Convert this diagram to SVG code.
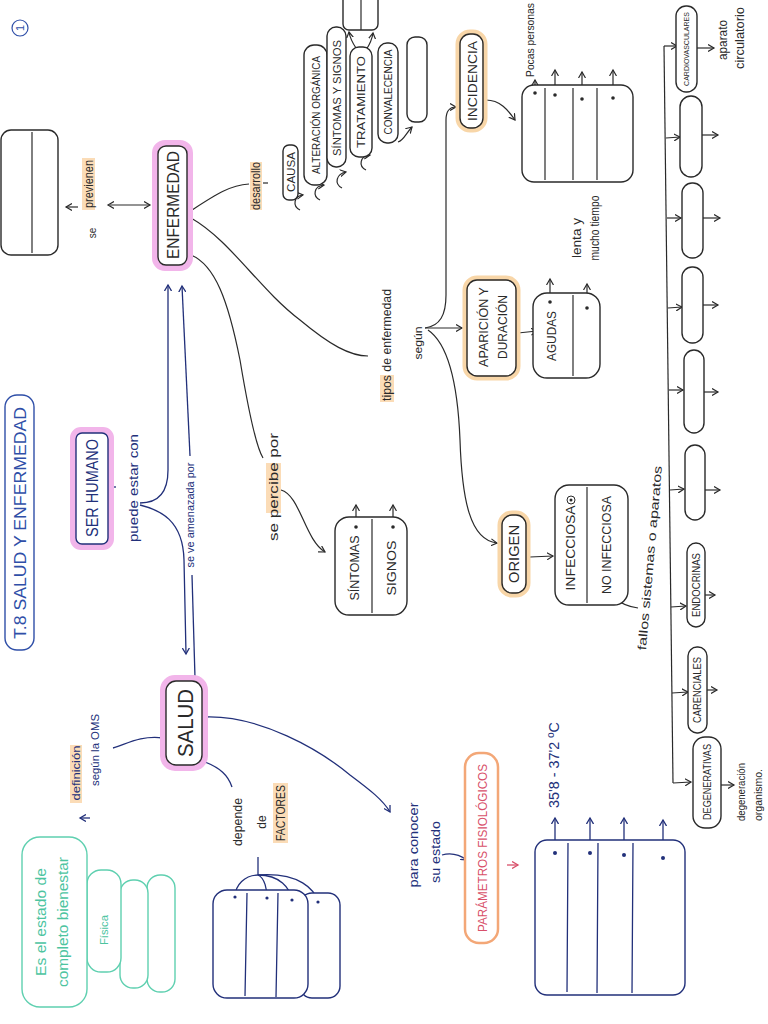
<svg xmlns="http://www.w3.org/2000/svg" width="768" height="1024" viewBox="0 0 768 1024">
<style>
text{font-family:"Liberation Sans","DejaVu Sans",sans-serif;text-anchor:middle;dominant-baseline:central}
.k{fill:#2a2a2a}
.n{fill:#22307a}
.g{fill:#4cc49f}
.r{fill:#d8506a}
.bk{fill:#fff;stroke:#2a2a2a;stroke-width:1.4}
.bn{fill:#fff;stroke:#22307a;stroke-width:1.4}
.bg{fill:#fff;stroke:#5fd0b0;stroke-width:1.4}
.pk{fill:#fff;stroke:#f2b5ea;stroke-width:6}
.og{fill:#fff;stroke:#f8d6a8;stroke-width:5}
.hl{fill:#fbdcb7}
.ck{fill:none;stroke:#2a2a2a;stroke-width:1.2}
.cn{fill:none;stroke:#22307a;stroke-width:1.3}
.dot{fill:#2a2a2a}
.dotn{fill:#22307a}
</style>
<defs>
<marker id="ak" markerWidth="8" markerHeight="8" refX="6" refY="4" orient="auto" markerUnits="userSpaceOnUse"><path d="M0,0.5 L6,4 L0,7.5" fill="none" stroke="#2a2a2a" stroke-width="1.2"/></marker>
<marker id="an" markerWidth="8" markerHeight="8" refX="6" refY="4" orient="auto" markerUnits="userSpaceOnUse"><path d="M0,0.5 L6,4 L0,7.5" fill="none" stroke="#22307a" stroke-width="1.3"/></marker>
<marker id="ar" markerWidth="8" markerHeight="8" refX="6" refY="4" orient="auto" markerUnits="userSpaceOnUse"><path d="M0,0.5 L6,4 L0,7.5" fill="none" stroke="#d8506a" stroke-width="1.3"/></marker>
<marker id="as" markerWidth="8" markerHeight="8" refX="4" refY="4" orient="auto-start-reverse" markerUnits="userSpaceOnUse"><path d="M0,0.5 L6,4 L0,7.5" fill="none" stroke="#2a2a2a" stroke-width="1.2"/></marker>
</defs>
<rect width="768" height="1024" fill="#fff"/>

<g id="connectors">
<path class="ck" d="M78,207 L66,207" marker-end="url(#ak)"/>
<path class="ck" d="M110,205 L150,205" marker-start="url(#as)" marker-end="url(#ak)"/>
<path class="ck" d="M192,210 C215,195 230,185 249,184"/>
<path class="ck" d="M263,183 L268,183"/>
<path class="ck" d="M191,218 C230,240 260,290 300,320 C330,345 350,356 368,356"/>
<path class="ck" d="M191,255 C215,265 228,300 240,360 C250,420 258,450 263,458"/>
<path class="ck" d="M281,490 C300,495 305,540 325,552" marker-end="url(#ak)"/>
<path class="ck" d="M425,328 C440,326 446,315 446,295 L446,120 C446,110 450,107 456,107" marker-end="url(#ak)"/>
<path class="ck" d="M425,328 L462,328" marker-end="url(#ak)"/>
<path class="ck" d="M428,330 C450,345 458,390 460,440 C462,500 470,540 497,543" marker-end="url(#ak)"/>
<path class="ck" d="M518,333 L537,331" marker-end="url(#ak)"/>
<path class="ck" d="M530,557 L553,556" marker-end="url(#ak)"/>
<path class="ck" d="M613,597 C620,603 630,607 638,608"/>
<path class="ck" d="M486,100 C500,100 508,110 515,120" marker-end="url(#ak)"/>
<path class="ck" d="M300,210 C292,206 294,196 303,195" marker-end="url(#ak)"/>
<path class="ck" d="M320,200 C312,196 314,186 324,185" marker-end="url(#ak)"/>
<path class="ck" d="M342,188 C334,184 336,174 346,172" marker-end="url(#ak)"/>
<path class="ck" d="M366,170 C358,166 360,156 370,155" marker-end="url(#ak)"/>
<path class="ck" d="M398,142 C404,140 406,133 412,127" marker-end="url(#ak)"/>
<path class="ck" d="M356,48 C352,42 350,38 349,32" marker-end="url(#ak)"/>
<path class="ck" d="M366,50 C370,44 372,40 373,33" marker-end="url(#ak)"/>
<path class="ck" d="M550,302 L550,279" marker-end="url(#ak)"/>
<path class="ck" d="M587,308 L587,284" marker-end="url(#ak)"/>
<path class="ck" d="M535,93 L535,80" marker-end="url(#ak)"/>
<path class="ck" d="M555,95 L555,70" marker-end="url(#ak)"/>
<path class="ck" d="M582,99 L582,72" marker-end="url(#ak)"/>
<path class="ck" d="M613,98 L613,70" marker-end="url(#ak)"/>
<path class="ck" d="M356,527 L356,505" marker-end="url(#ak)"/>
<path class="ck" d="M393,527 L393,505" marker-end="url(#ak)"/>
<path class="ck" d="M664,46 L673,783"/>
<path class="ck" d="M664,46 L677,46" marker-end="url(#ak)"/>
<path class="ck" d="M666,138 L680,137" marker-end="url(#ak)"/>
<path class="ck" d="M667,218 L681,218" marker-end="url(#ak)"/>
<path class="ck" d="M668,308 L682,307" marker-end="url(#ak)"/>
<path class="ck" d="M669,390 L683,390" marker-end="url(#ak)"/>
<path class="ck" d="M670,490 L684,489" marker-end="url(#ak)"/>
<path class="ck" d="M671,607 L686,606" marker-end="url(#ak)"/>
<path class="ck" d="M672,693 L688,692" marker-end="url(#ak)"/>
<path class="ck" d="M673,783 L691,782" marker-end="url(#ak)"/>
<path class="ck" d="M696,48 L714,48" marker-end="url(#ak)"/>
<path class="ck" d="M697,135 L718,135" marker-end="url(#ak)"/>
<path class="ck" d="M700,218 L720,218" marker-end="url(#ak)"/>
<path class="ck" d="M700,305 L718,305" marker-end="url(#ak)"/>
<path class="ck" d="M700,392 L718,392" marker-end="url(#ak)"/>
<path class="ck" d="M702,490 L720,490" marker-end="url(#ak)"/>
<path class="ck" d="M705,595 L715,595" marker-end="url(#ak)"/>
<path class="ck" d="M707,690 L717,690" marker-end="url(#ak)"/>
<path class="ck" d="M718,785 L734,785" marker-end="url(#ak)"/>
<path class="cn" d="M140,503 C160,503 168,490 168,470 L168,285" marker-end="url(#an)"/>
<path class="cn" d="M140,505 C160,510 183,520 184,560 L186,654" marker-end="url(#an)"/>
<path class="cn" d="M190,456 L182,286" marker-end="url(#an)"/>
<path class="cn" d="M192,575 L195,678"/>
<path class="cn" d="M112,487 L116,487"/>
<path class="cn" d="M163,738 C140,735 125,745 113,748"/>
<path class="cn" d="M90,818 L80,818" marker-end="url(#an)"/>
<path class="cn" d="M205,762 C220,768 228,775 232,787"/>
<path class="cn" d="M205,717 C260,715 320,750 350,775 C370,790 383,800 390,812" marker-end="url(#an)"/>
<path class="cn" d="M442,855 C452,852 460,855 467,860" marker-end="url(#an)"/>
<path class="cn" d="M258,857 L258,875"/>
<path class="cn" d="M258,875 C245,875 235,885 235,897"/>
<path class="cn" d="M258,875 C265,878 267,890 267,898"/>
<path class="cn" d="M258,875 C280,875 290,888 292,900"/>
<path class="cn" d="M258,875 C300,872 315,890 318,902"/>
<path class="cn" d="M555,853 L555,818" marker-end="url(#an)"/>
<path class="cn" d="M590,853 L590,818" marker-end="url(#an)"/>
<path class="cn" d="M624,855 L624,818" marker-end="url(#an)"/>
<path class="cn" d="M663,858 L663,820" marker-end="url(#an)"/>
<path fill="none" stroke="#d8506a" stroke-width="1.3" d="M507,865 L518,865" marker-end="url(#ar)"/>
</g>

<g id="title">
<rect x="5" y="395" width="29" height="255" rx="12" fill="#fff" stroke="#2f4fa8" stroke-width="1.4"/>
<text transform="translate(20 523) rotate(-90)" font-size="16" fill="#2f4fa8" textLength="232" lengthAdjust="spacingAndGlyphs">T.8   SALUD  Y  ENFERMEDAD</text>
<circle cx="20" cy="28" r="8" fill="none" stroke="#2f4fa8" stroke-width="1.2"/>
<text transform="translate(20 28) rotate(-90)" font-size="11" fill="#2f4fa8">1</text>
</g>

<g id="prevention-box">
<rect class="bk" x="1" y="130" width="57" height="125" rx="10"/>
<path class="ck" d="M32,132 L32,253"/>
</g>

<g id="se-previenen">
<rect class="hl" x="82" y="158" width="13" height="52"/>
<text class="k" transform="translate(89 184) rotate(-90)" font-size="12" textLength="48" lengthAdjust="spacingAndGlyphs">previenen</text>
<text class="k" transform="translate(92 233) rotate(-90)" font-size="10">se</text>
</g>

<g id="enfermedad">
<rect class="pk" x="155" y="143" width="35" height="125" rx="10"/>
<rect x="158" y="146" width="29" height="119" rx="8" fill="none" stroke="#2a2a2a" stroke-width="1.4"/>
<text class="k" transform="translate(173 205) rotate(-90)" font-size="16" textLength="108" lengthAdjust="spacingAndGlyphs">ENFERMEDAD</text>
</g>

<g id="desarrollo">
<rect class="hl" x="250" y="162" width="12" height="48"/>
<text class="k" transform="translate(256 186) rotate(-90)" font-size="12" textLength="48" lengthAdjust="spacingAndGlyphs">desarrollo</text>
</g>

<g id="causa"><rect class="bk" x="283" y="145" width="15" height="55" rx="6"/><text class="k" transform="translate(291 172) rotate(-90)" font-size="11" textLength="40" lengthAdjust="spacingAndGlyphs">CAUSA</text></g>
<g id="alteracion"><rect class="bk" x="304" y="45" width="23" height="140" rx="10"/><text class="k" transform="translate(316 115) rotate(-90)" font-size="11" textLength="118" lengthAdjust="spacingAndGlyphs">ALTERACIÓN ORGÁNICA</text></g>
<g id="sintomas-signos-dev"><rect class="bk" x="327" y="27" width="19" height="140" rx="9"/><text class="k" transform="translate(337 98) rotate(-90)" font-size="11" textLength="116" lengthAdjust="spacingAndGlyphs">SÍNTOMAS Y SIGNOS</text></g>
<g id="tratamiento"><rect class="bk" x="350" y="47" width="22" height="110" rx="9"/><text class="k" transform="translate(361 102) rotate(-90)" font-size="11" textLength="92" lengthAdjust="spacingAndGlyphs">TRATAMIENTO</text></g>
<g id="convalecencia"><rect class="bk" x="378" y="43" width="20" height="100" rx="9"/><text class="k" transform="translate(388 92) rotate(-90)" font-size="10" textLength="85" lengthAdjust="spacingAndGlyphs">CONVALECENCIA</text></g>
<g id="empty-dev"><rect class="bk" x="407" y="37" width="20" height="85" rx="8"/></g>
<g id="treatment-box"><rect class="bk" x="343" y="-10" width="35" height="40" rx="6"/><path class="ck" d="M361,-10 L361,30"/></g>

<g id="tipos">
<rect class="hl" x="380" y="375" width="14" height="27"/>
<text class="k" transform="translate(387 345) rotate(-90)" font-size="12" textLength="112" lengthAdjust="spacingAndGlyphs">tipos de enfermedad</text>
<text class="k" transform="translate(418 343) rotate(-90)" font-size="11" textLength="33" lengthAdjust="spacingAndGlyphs">según</text>
</g>

<g id="incidencia">
<rect class="og" x="458" y="32" width="27" height="98" rx="12"/>
<rect x="460" y="34" width="23" height="94" rx="10" fill="none" stroke="#2a2a2a" stroke-width="1.4"/>
<text class="k" transform="translate(472 81) rotate(-90)" font-size="13" textLength="80" lengthAdjust="spacingAndGlyphs">INCIDENCIA</text>
</g>

<g id="incidence-table">
<rect class="bk" x="522" y="85" width="111" height="97" rx="12"/>
<path class="ck" d="M545,88 L545,180 M573,88 L573,180 M597,88 L597,180"/>
<circle class="dot" cx="535" cy="93" r="1.8"/><circle class="dot" cx="555" cy="95" r="1.8"/><circle class="dot" cx="582" cy="99" r="1.8"/><circle class="dot" cx="613" cy="98" r="1.8"/>
<text class="k" transform="translate(530 40) rotate(-90)" font-size="11" textLength="74" lengthAdjust="spacingAndGlyphs">Pocas personas</text>
</g>

<g id="aparicion">
<rect class="og" x="465" y="278" width="53" height="100" rx="12"/>
<rect x="467" y="280" width="49" height="96" rx="10" fill="none" stroke="#2a2a2a" stroke-width="1.4"/>
<text class="k" transform="translate(484 327) rotate(-90)" font-size="12" textLength="80" lengthAdjust="spacingAndGlyphs">APARICIÓN Y</text>
<text class="k" transform="translate(503 327) rotate(-90)" font-size="12" textLength="64" lengthAdjust="spacingAndGlyphs">DURACIÓN</text>
</g>

<g id="agudas">
<rect class="bk" x="533" y="293" width="67" height="85" rx="14"/>
<path class="ck" d="M573,295 L573,376"/>
<text class="k" transform="translate(551 336) rotate(-90)" font-size="13" textLength="50" lengthAdjust="spacingAndGlyphs">AGUDAS</text>
<circle class="dot" cx="550" cy="302" r="1.8"/><circle class="dot" cx="587" cy="308" r="1.8"/>
<text class="k" transform="translate(577 238) rotate(-90)" font-size="12" textLength="40" lengthAdjust="spacingAndGlyphs">lenta y</text>
<text class="k" transform="translate(595 228) rotate(-90)" font-size="12" textLength="65" lengthAdjust="spacingAndGlyphs">mucho tiempo</text>
</g>

<g id="origen">
<rect class="og" x="500" y="513" width="28" height="82" rx="12"/>
<rect x="502" y="515" width="24" height="78" rx="10" fill="none" stroke="#2a2a2a" stroke-width="1.4"/>
<text class="k" transform="translate(514 554) rotate(-90)" font-size="14" textLength="58" lengthAdjust="spacingAndGlyphs">ORIGEN</text>
</g>

<g id="infecciosa">
<rect class="bk" x="555" y="485" width="73" height="120" rx="14"/>
<path class="ck" d="M587,487 L587,603"/>
<text class="k" transform="translate(571 548) rotate(-90)" font-size="12" textLength="85" lengthAdjust="spacingAndGlyphs">INFECCIOSA</text>
<text class="k" transform="translate(607 545) rotate(-90)" font-size="12" textLength="98" lengthAdjust="spacingAndGlyphs">NO INFECCIOSA</text>
<circle cx="571" cy="500" r="4" fill="none" stroke="#2a2a2a" stroke-width="1"/>
<circle class="dot" cx="571" cy="500" r="1.5"/>
<text class="k" transform="translate(650 558) rotate(-85)" font-size="12" textLength="185" lengthAdjust="spacingAndGlyphs">fallos  sistemas  o  aparatos</text>
</g>

<g id="percibe">
<rect class="hl" x="266" y="463" width="15" height="50"/>
<text class="k" transform="translate(273 487) rotate(-90)" font-size="13" textLength="108" lengthAdjust="spacingAndGlyphs">se  percibe  por</text>
</g>

<g id="sintomas-signos">
<rect class="bk" x="335" y="517" width="72" height="98" rx="14"/>
<path class="ck" d="M372,519 L372,613"/>
<text class="k" transform="translate(354 568) rotate(-90)" font-size="13" textLength="65" lengthAdjust="spacingAndGlyphs">SÍNTOMAS</text>
<text class="k" transform="translate(391 568) rotate(-90)" font-size="13" textLength="55" lengthAdjust="spacingAndGlyphs">SIGNOS</text>
<circle class="dot" cx="356" cy="527" r="1.8"/><circle class="dot" cx="393" cy="527" r="1.8"/>
</g>

<g id="ser-humano">
<rect class="pk" x="73" y="430" width="38" height="117" rx="8"/>
<rect x="76" y="433" width="32" height="111" rx="6" fill="none" stroke="#22307a" stroke-width="1.4"/>
<text class="n" transform="translate(92 488) rotate(-90)" font-size="16" textLength="98" lengthAdjust="spacingAndGlyphs">SER HUMANO</text>
<text class="n" transform="translate(133 488) rotate(-90)" font-size="13" textLength="108" lengthAdjust="spacingAndGlyphs">puede estar con</text>
<text class="n" transform="translate(190 515) rotate(-90)" font-size="11" textLength="105" lengthAdjust="spacingAndGlyphs">se ve amenazada por</text>
</g>

<g id="salud">
<rect class="pk" x="163" y="678" width="42" height="90" rx="12"/>
<rect x="166" y="681" width="36" height="84" rx="10" fill="none" stroke="#2a2a2a" stroke-width="1.4"/>
<text class="k" transform="translate(185 723) rotate(-90)" font-size="22" textLength="68" lengthAdjust="spacingAndGlyphs">SALUD</text>
</g>

<g id="definicion">
<rect class="hl" x="70" y="745" width="12" height="58"/>
<text class="n" transform="translate(76 773) rotate(-90)" font-size="11" textLength="55" lengthAdjust="spacingAndGlyphs">definición</text>
<text class="n" transform="translate(95 750) rotate(-90)" font-size="11" textLength="72" lengthAdjust="spacingAndGlyphs">según la OMS</text>
</g>

<g id="bienestar">
<rect class="bg" x="147" y="875" width="28" height="117" rx="13"/>
<rect class="bg" x="120" y="880" width="28" height="108" rx="13"/>
<rect class="bg" x="87" y="870" width="34" height="102" rx="14"/>
<rect class="bg" x="22" y="837" width="65" height="170" rx="18"/>
<text class="g" transform="translate(41 922) rotate(-90)" font-size="14" textLength="108" lengthAdjust="spacingAndGlyphs">Es el estado de</text>
<text class="g" transform="translate(63 922) rotate(-90)" font-size="14" textLength="130" lengthAdjust="spacingAndGlyphs">completo bienestar</text>
<text class="g" transform="translate(104 930) rotate(-90)" font-size="10" textLength="30" lengthAdjust="spacingAndGlyphs">Física</text>
</g>

<g id="factores">
<text class="k" transform="translate(237 822) rotate(-90)" font-size="13" textLength="48" lengthAdjust="spacingAndGlyphs">depende</text>
<text class="k" transform="translate(262 822) rotate(-90)" font-size="12">de</text>
<rect class="hl" x="273" y="783" width="15" height="60"/>
<text class="k" transform="translate(281 813) rotate(-90)" font-size="12" textLength="56" lengthAdjust="spacingAndGlyphs">FACTORES</text>
</g>

<g id="factores-box">
<rect class="bn" x="300" y="893" width="40" height="105" rx="12"/>
<rect class="bn" x="213" y="890" width="95" height="108" rx="14"/>
<path class="cn" d="M247,893 L245,996 M278,893 L276,997"/>
<circle class="dotn" cx="235" cy="897" r="1.6"/><circle class="dotn" cx="267" cy="898" r="1.6"/><circle class="dotn" cx="292" cy="900" r="1.6"/><circle class="dotn" cx="318" cy="902" r="1.6"/>
</g>

<g id="para-conocer">
<text class="n" transform="translate(413 845) rotate(-90)" font-size="13" textLength="85" lengthAdjust="spacingAndGlyphs">para conocer</text>
<text class="n" transform="translate(435 852) rotate(-90)" font-size="13" textLength="62" lengthAdjust="spacingAndGlyphs">su estado</text>
</g>

<g id="parametros">
<rect x="465" y="753" width="33" height="190" rx="14" fill="#fff" stroke="#f3a777" stroke-width="2.5"/>
<text class="r" transform="translate(482 848) rotate(-90)" font-size="13" textLength="168" lengthAdjust="spacingAndGlyphs">PARÁMETROS  FISIOLÓGICOS</text>
</g>

<g id="parametros-box">
<rect class="bn" x="535" y="840" width="150" height="155" rx="12"/>
<path class="cn" d="M568,843 L567,992 M598,843 L597,993 M633,843 L632,993"/>
<circle class="dotn" cx="555" cy="853" r="2"/><circle class="dotn" cx="590" cy="853" r="2"/><circle class="dotn" cx="624" cy="855" r="2"/><circle class="dotn" cx="663" cy="858" r="2"/>
<text class="n" transform="translate(553 765) rotate(-90)" font-size="15" textLength="86" lengthAdjust="spacingAndGlyphs">35'8 - 37'2 ºC</text>
</g>

<g id="cardiovasculares">
<rect class="bk" x="676" y="6" width="21" height="86" rx="10"/>
<text class="k" transform="translate(686.5 49) rotate(-90)" font-size="7">CARDIOVASCULARES</text>
<text class="k" transform="translate(723 40) rotate(-90)" font-size="12" textLength="40" lengthAdjust="spacingAndGlyphs">aparato</text>
<text class="k" transform="translate(740 38) rotate(-90)" font-size="12" textLength="62" lengthAdjust="spacingAndGlyphs">circulatorio</text>
</g>
<g id="pill-2"><rect class="bk" x="680" y="96" width="22" height="81" rx="11"/></g>
<g id="pill-3"><rect class="bk" x="682" y="183" width="21" height="75" rx="10"/></g>
<g id="pill-4"><rect class="bk" x="682" y="267" width="21" height="76" rx="10"/></g>
<g id="pill-5"><rect class="bk" x="684" y="350" width="20" height="83" rx="10"/></g>
<g id="pill-6"><rect class="bk" x="685" y="445" width="20" height="75" rx="10"/></g>
<g id="endocrinas"><rect class="bk" x="687" y="543" width="18" height="84" rx="9"/><text class="k" transform="translate(696 585) rotate(-90)" font-size="10" textLength="64" lengthAdjust="spacingAndGlyphs">ENDOCRINAS</text></g>
<g id="carenciales"><rect class="bk" x="688" y="647" width="19" height="86" rx="9"/><text class="k" transform="translate(697 690) rotate(-90)" font-size="10" textLength="66" lengthAdjust="spacingAndGlyphs">CARENCIALES</text></g>
<g id="degenerativas"><rect class="bk" x="693" y="737" width="28" height="91" rx="12"/><text class="k" transform="translate(707 782) rotate(-90)" font-size="11" textLength="76" lengthAdjust="spacingAndGlyphs">DEGENERATIVAS</text>
<text class="k" transform="translate(741 792) rotate(-90)" font-size="11" textLength="58" lengthAdjust="spacingAndGlyphs">degeneración</text>
<text class="k" transform="translate(758 795) rotate(-90)" font-size="11" textLength="52" lengthAdjust="spacingAndGlyphs">organismo.</text>
</g>
</svg>
